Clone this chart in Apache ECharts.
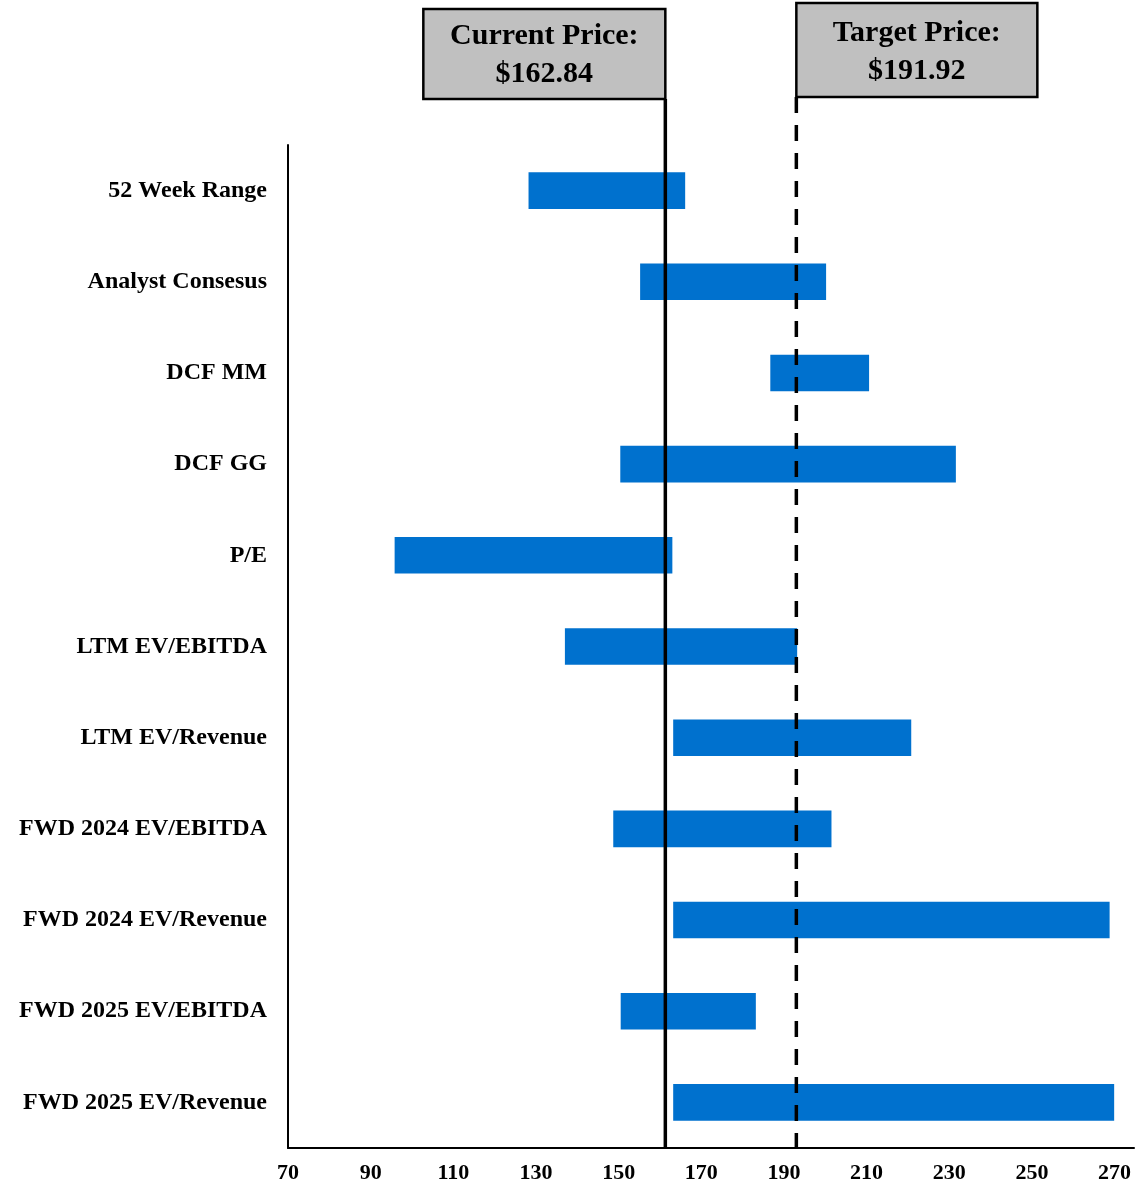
<!DOCTYPE html>
<html><head><meta charset="utf-8">
<script src="https://cdn.jsdelivr.net/npm/echarts@6/dist/echarts.min.js"></script>
<style>html,body{margin:0;padding:0;background:#fff}#c{width:1137px;height:1186px}</style>
</head><body><div id="c"></div>
<script>
const categories = ['52 Week Range','Analyst Consesus','DCF MM','DCF GG','P/E','LTM EV/EBITDA','LTM EV/Revenue','FWD 2024 EV/EBITDA','FWD 2024 EV/Revenue','FWD 2025 EV/EBITDA','FWD 2025 EV/Revenue'];
const lows  = [128.2,155.2,186.7,150.4, 95.8,137.0,163.2,148.7,163.2,150.5,163.2];
const highs = [166.1,200.2,210.6,231.6,163.0,193.2,220.8,201.5,268.8,183.2,269.9];
const xTicks = [70,90,110,130,150,170,190,210,230,250,270];
const currentPriceLabel = '$162.84';
const targetPriceLabel = '$191.92';
const currentLineValue = 161.3;
const targetLineValue = 193.0;

const FONT = '"Liberation Serif", "Times New Roman", serif';
const chart = echarts.init(document.getElementById('c'), null, {renderer:'canvas'});

function priceSeries(value, title, priceText, opts) {
  return {
    type: 'custom', z: 10, clip: false, silent: true,
    data: [[value, 0]],
    renderItem: function (params, api) {
      const x = api.coord([api.value(0), api.value(1)])[0];
      const cs = params.coordSys;
      const bottom = cs.y + cs.height;
      const bx = opts.side === 'left' ? x - opts.w : x;
      return {
        type: 'group',
        children: [
          { type: 'line', shape: {x1: x, y1: opts.top + opts.h, x2: x, y2: bottom},
            style: {stroke: '#000', lineWidth: opts.lw, lineDash: opts.dash || null, lineCap: 'butt'} },
          { type: 'rect', shape: {x: bx, y: opts.top, width: opts.w, height: opts.h},
            style: {fill: '#c0c0c0', stroke: '#000', lineWidth: 2.5} },
          { type: 'text', style: {text: title + '\n' + priceText, x: bx + opts.w / 2, y: opts.top + opts.h / 2 + opts.dy,
            align: 'center', verticalAlign: 'middle', fontFamily: FONT, fontWeight: 'bold', fontSize: 30,
            lineHeight: 38, fill: '#000'} }
        ]
      };
    }
  };
}

chart.setOption({
  animation: false,
  backgroundColor: '#fff',
  grid: {left: 288, right: 0, top: 145, bottom: 38, containLabel: false},
  xAxis: {
    type: 'value', min: 70, max: 274.7, interval: 20,
    axisLine: {show: true, lineStyle: {color: '#000', width: 2}},
    axisTick: {show: false}, splitLine: {show: false},
    axisLabel: {color: '#000', fontFamily: FONT, fontWeight: 'bold', fontSize: 22, margin: 14,
      formatter: v => xTicks.includes(v) ? String(v) : ''}
  },
  yAxis: {
    type: 'category', data: categories, inverse: true,
    axisLine: {show: true, lineStyle: {color: '#000', width: 2}},
    axisTick: {show: false},
    axisLabel: {color: '#000', fontFamily: FONT, fontWeight: 'bold', fontSize: 24, margin: 21}
  },
  series: [
    {type: 'bar', stack: 'r', silent: true, barWidth: 36.6, itemStyle: {color: 'rgba(0,0,0,0)'}, data: lows},
    {type: 'bar', stack: 'r', silent: true, barWidth: 36.6, itemStyle: {color: '#0071ce'},
      data: highs.map((h, i) => +(h - lows[i]).toFixed(2))},
    priceSeries(currentLineValue, 'Current Price:', currentPriceLabel, {side: 'left', w: 242, top: 9, h: 90, lw: 3.5, dy: 1}),
    priceSeries(targetLineValue, 'Target Price:', targetPriceLabel, {side: 'right', w: 241, top: 3, h: 94, lw: 3.5, dash: [16, 12], dy: 2})
  ]
});
</script></body></html>
